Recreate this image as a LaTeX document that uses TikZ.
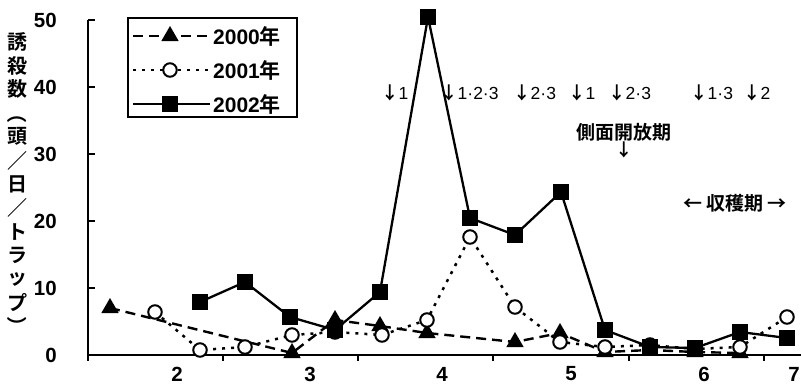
\documentclass[tikz,border=0pt]{standalone}
\usepackage{fontspec}
\setmainfont{Liberation Sans}
\newfontfamily\jp{Noto Sans CJK JP}[BoldFont={Noto Sans CJK JP Bold}]
\usetikzlibrary{shapes.geometric}
\tikzset{
  tri/.style={regular polygon, regular polygon sides=3, fill=black, inner sep=0pt, minimum size=20pt},
  sq/.style={rectangle, fill=black, inner sep=0pt, minimum size=15.5pt},
  circ/.style={circle, draw=black, fill=white, line width=2pt, inner sep=0pt, minimum size=13.5pt},
  sA/.style={line width=2.4pt, dash pattern=on 10pt off 6pt},
  sB/.style={line width=2.5pt, dash pattern=on 3pt off 6pt},
  sC/.style={line width=2.3pt},
  axis/.style={line width=1.5pt},
  ylab/.style={font=\fontsize{20.5}{20.5}\selectfont\bfseries, anchor=east, inner sep=0pt},
  xlab/.style={font=\fontsize{20.5}{20.5}\selectfont\bfseries, inner sep=0pt},
  vlab/.style={font=\fontsize{20}{20}\selectfont\jp\bfseries, inner sep=0pt},
  ann/.style={font=\fontsize{17.5}{17.5}\selectfont, inner sep=0pt, anchor=west},
  jpb/.style={font=\fontsize{19}{19}\selectfont\jp\bfseries, inner sep=0pt},
  leg/.style={font=\fontsize{21}{21}\selectfont\bfseries, anchor=west, inner sep=0pt}
}
\newcommand\dn{{\jp\bfseries ↓}}
\begin{document}
\begin{tikzpicture}[x=1pt,y=-1pt]
\useasboundingbox[fill=white] (0,0) rectangle (801,386);
% axes
\coordinate (o) at (88,355);
\coordinate (ytop) at (88,20);
\coordinate (xend) at (801,355);
\draw[axis] (ytop) -- (o) -- (xend);
\foreach \v in {0,10,20,30,40,50} {
  \coordinate (yt\v) at (88,355-6.7*\v);
  \draw[axis] (yt\v) -- ++(7,0);
  \node[ylab] at (57,355-6.7*\v) {\v};
}
\draw[axis] (o) -- ++(0,6);
\foreach \x in {223,358,493,629,764} {
  \coordinate (xt\x) at (\x,355);
  \draw[axis] (xt\x) -- ++(0,6);
}
\foreach \x/\t in {177/2,310/3,442/4,571/5,704/6,794/7}
  \node[xlab] at (\x,374) {\t};
% y axis label
\foreach \c [count=\i from 0] in {誘,殺,数,,頭,／,日,／,ト,ラ,ッ,プ,}
  \node[vlab] at (17,42+23.7*\i) {\c};
\node[vlab, rotate=-90] at (17,42+23.7*3) {（};
\node[vlab, rotate=-90] at (17,42+23.7*12) {）};
% data 2000
\foreach \x/\y [count=\i] in {110/308,292/353,335/320,380/326,427/333,515/342,560/333,605/352,650/350,695/352,740/353}
  \coordinate (a\i) at (\x,\y);
\draw[sA] (a1) \foreach \i in {2,...,11} { -- (a\i) };
\foreach \i in {1,...,11} \node[tri] at (a\i) {};
% data 2001
\foreach \x/\y [count=\i] in {155/312,200/350,245/347,292/335,335/332,382/335,427/320,470/237,515/307,560/342,605/347,650/345,695/349,740/347,787/317}
  \coordinate (b\i) at (\x,\y);
\draw[sB] (b1) \foreach \i in {2,...,15} { -- (b\i) };
\foreach \i in {1,...,15} \node[circ] at (b\i) {};
% data 2002
\foreach \x/\y [count=\i] in {200/302,245/282,290/317,335/330,380/292,428/17,470/218,515/235,561/192,605/330,650/347,695/348,740/332,787/338}
  \coordinate (c\i) at (\x,\y);
\draw[sC] (c1) \foreach \i in {2,...,14} { -- (c\i) };
\foreach \i in {1,...,14} \node[sq] at (c\i) {};
% legend
\node[draw, line width=1.3pt, fill=white, minimum width=169pt, minimum height=99pt, inner sep=0pt] (legbox) at (212.5,67.5) {};
\coordinate (l1a) at (133,36); \coordinate (l1b) at (210,36);
\coordinate (l2a) at (133,70); \coordinate (l2b) at (210,70);
\coordinate (l3a) at (133,104); \coordinate (l3b) at (210,104);
\draw[sA] (l1a) -- (l1b);
\draw[sB] (l2a) -- (l2b);
\draw[sC] (l3a) -- (l3b);
\node[tri] (m1) at (170,36) {};
\node[circ] (m2) at (170,70) {};
\node[sq] (m3) at (170,104) {};
\node[leg] at (213,36) {2000{\jp 年}};
\node[leg] at (213,70) {2001{\jp 年}};
\node[leg] at (213,104) {2002{\jp 年}};
% annotations
\node[ann] at (381,93) {\dn1};
\node[ann] at (440,93) {\dn1·2·3};
\node[ann] at (513,93) {\dn2·3};
\node[ann] at (568,93) {\dn1};
\node[ann] at (608,93) {\dn2·3};
\node[ann] at (690,93) {\dn1·3};
\node[ann] at (743,93) {\dn2};
\node[jpb] at (624,132) {側面開放期};
\node[font=\fontsize{17.5}{17.5}\selectfont, inner sep=0pt] at (624,150) {\dn};
\node[jpb] at (735,203) {← 収穫期 →};
\end{tikzpicture}
\end{document}
